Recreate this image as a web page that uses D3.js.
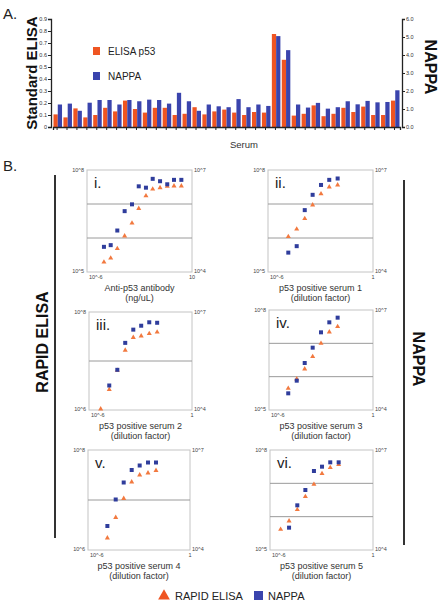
<!DOCTYPE html>
<html><head><meta charset="utf-8">
<script src="https://cdn.jsdelivr.net/npm/d3@7/dist/d3.min.js"></script>
<style>body{margin:0;background:#fff}svg{display:block}text{font-family:"Liberation Sans",Arial,sans-serif}</style>
</head><body>
<svg id="c" width="440" height="604"></svg>
<script>
// ---------- Part A data ----------
const serum = ["1","2","3","4","5","6","7","8","9","10","11","12","13","14","15","16","17","18","19","20","21","22","23","24","25","26","27","28","29","30","31","32","33","34","35"];
const elisaP53 = [0.105,0.08,0.155,0.08,0.10,0.16,0.13,0.22,0.15,0.12,0.16,0.16,0.10,0.11,0.165,0.105,0.13,0.145,0.12,0.10,0.125,0.12,0.775,0.56,0.095,0.11,0.18,0.09,0.11,0.16,0.125,0.17,0.10,0.10,0.22];
const nappaA = [1.25,1.3,0.9,1.35,1.5,1.5,1.25,1.5,1.43,1.52,1.5,1.3,1.9,1.43,0.9,1.25,1.15,1.1,1.55,1.1,1.25,1.17,5.05,4.27,1.25,1.08,1.34,1.02,1.1,1.43,1.26,1.45,1.37,1.39,2.04];
const leftTicks = [0,0.1,0.2,0.3,0.4,0.5,0.6,0.7,0.8,0.9];
const rightTicks = [0,1,2,3,4,5,6];

// ---------- Part B data (log10 values) ----------
const panelNames = ["i.","ii.","iii.","iv.","v.","vi."];
const panelTitles = [["Anti-p53 antibody","(ng/uL)"],["p53 positive serum 1","(dilution factor)"],["p53 positive serum 2","(dilution factor)"],["p53 positive serum 3","(dilution factor)"],["p53 positive serum 4","(dilution factor)"],["p53 positive serum 5","(dilution factor)"]];
const xTickLabels = [["10^-6","10"],["10^-6","1"],["10^-6","1"],["10^-6","1"],["10^-6","1"],["10^-6","1"]];
const yLeftLabels = [["10^8","10^5"],["10^8","10^5"],["10^8","10^6"],["10^8","10^5"],["10^8","10^6"],["10^8","10^5"]];
const yRightLabels = [["10^7","10^4"],["10^7","10^4"],["10^7","10^4"],["10^7","10^4"],["10^7","10^4"],["10^7","10^4"]];
const xDomainExp = [[-6,1],[-6,0],[-6,0],[-6,0],[-6,0],[-6,0]];
const yDomainExp = [[5,8],[5,8],[6,8],[5,8],[6,8],[5,8]];

const p1NappaX = [-4.87,-4.42,-3.98,-3.49,-3.00,-2.55,-2.07,-1.62,-1.13,-0.65,-0.20,0.29];
const p1NappaY = [5.74,5.79,6.22,6.79,6.99,7.52,7.48,7.74,7.67,7.58,7.71,7.71];
const p1ElisaX = [-4.87,-4.42,-3.98,-3.49,-3.00,-2.55,-2.07,-1.62,-1.13,-0.65,-0.20,0.29];
const p1ElisaY = [5.29,5.41,5.69,6.06,6.44,6.87,7.24,7.44,7.48,7.52,7.53,7.53];

const p2NappaX = [-4.84,-4.36,-3.90,-3.45,-2.97,-2.50,-2.02];
const p2NappaY = [5.57,5.76,6.82,7.27,7.56,7.71,7.75];
const p2ElisaX = [-4.84,-4.36,-3.90,-3.45,-2.97,-2.50,-2.02];
const p2ElisaY = [6.04,6.26,6.57,6.97,7.30,7.50,7.56];

const p3NappaX = [-4.82,-4.35,-3.89,-3.42,-2.96,-2.49,-2.03];
const p3NappaY = [6.50,6.82,7.37,7.64,7.72,7.79,7.78];
const p3ElisaX = [-5.32,-4.82,-4.35,-3.89,-3.42,-2.96,-2.49,-2.03];
const p3ElisaY = [6.02,6.42,6.81,7.22,7.48,7.51,7.56,7.59];

const p4NappaX = [-4.89,-4.40,-3.94,-3.48,-3.00,-2.52,-2.04];
const p4NappaY = [5.50,5.88,6.41,6.87,7.33,7.63,7.77];
const p4ElisaX = [-4.89,-4.40,-3.94,-3.48,-3.00,-2.52,-2.04];
const p4ElisaY = [5.65,5.93,6.23,6.60,7.00,7.34,7.50];

const p5NappaX = [-4.86,-4.37,-3.90,-3.43,-2.96,-2.47,-2.00];
const p5NappaY = [6.48,7.01,7.35,7.60,7.69,7.75,7.75];
const p5ElisaX = [-4.86,-4.37,-3.90,-3.43,-2.96,-2.47,-2.00];
const p5ElisaY = [6.24,6.65,7.03,7.36,7.50,7.54,7.59];

const p6NappaX = [-4.89,-4.41,-3.94,-3.44,-2.97,-2.49,-2.00];
const p6NappaY = [5.67,6.34,6.80,7.37,7.50,7.63,7.63];
const p6ElisaX = [-5.38,-4.89,-4.41,-3.94,-3.44,-2.97,-2.49,-2.00];
const p6ElisaY = [5.62,5.87,6.21,6.60,6.97,7.29,7.47,7.56];

const nappaX = [p1NappaX,p2NappaX,p3NappaX,p4NappaX,p5NappaX,p6NappaX];
const nappaY = [p1NappaY,p2NappaY,p3NappaY,p4NappaY,p5NappaY,p6NappaY];
const elisaX = [p1ElisaX,p2ElisaX,p3ElisaX,p4ElisaX,p5ElisaX,p6ElisaX];
const elisaY = [p1ElisaY,p2ElisaY,p3ElisaY,p4ElisaY,p5ElisaY,p6ElisaY];

// ---------- styles ----------
const ORANGE = "#ef5522", BLUE = "#3a44ad", ORANGE_PT = "#f2793f", BLUE_PT = "#2f3d9c";
const svg = d3.select("#c");

// ---------- Part A ----------
const A = {l:51, r:402, t:19, b:127};
const x0 = d3.scaleBand().domain(serum).range([A.l+2, A.r-2]).paddingInner(0.14).paddingOuter(0.05);
const x1 = d3.scaleBand().domain(["e","n"]).range([0, x0.bandwidth()]).padding(0);
const yL = d3.scaleLinear().domain([0,0.9]).range([A.b, A.t]);
const yR = d3.scaleLinear().domain([0,6]).range([A.b, A.t]);

svg.append("text").attr("x",3).attr("y",19).attr("font-size",15).attr("fill","#222").text("A.");
svg.append("text").attr("x",3).attr("y",171).attr("font-size",15).attr("fill","#222").text("B.");

const gA = svg.append("g");
gA.selectAll("rect.e").data(elisaP53).join("rect")
  .attr("x",(d,i)=>x0(serum[i])+x1("e")).attr("width",x1.bandwidth())
  .attr("y",d=>yL(d)).attr("height",d=>yL(0)-yL(d)).attr("fill",ORANGE);
gA.selectAll("rect.n").data(nappaA).join("rect")
  .attr("x",(d,i)=>x0(serum[i])+x1("n")).attr("width",x1.bandwidth())
  .attr("y",d=>yR(d)).attr("height",d=>yR(0)-yR(d)).attr("fill",BLUE);

const axL = d3.axisLeft(yL).tickValues(leftTicks).tickSize(3).tickFormat(d=>d===0?"0":d3.format(".1f")(d));
const gL = svg.append("g").attr("transform",`translate(${A.l},0)`).call(axL);
const axR = d3.axisRight(yR).tickValues(rightTicks).tickSize(3).tickFormat(d3.format(".1f"));
const gR = svg.append("g").attr("transform",`translate(${A.r},0)`).call(axR);
const axB = d3.axisBottom(x0).tickSize(3).tickFormat("");
const gB = svg.append("g").attr("transform",`translate(0,${A.b})`).call(axB);
[gL,gR,gB].forEach(g=>{
  g.select(".domain").attr("stroke","#222").attr("stroke-width",1.3);
  g.selectAll(".tick line").attr("stroke","#222");
  g.selectAll(".tick text").attr("font-size",5.5).attr("fill","#333").attr("font-family","Liberation Sans,Arial");
});
gL.selectAll(".tick text").attr("x",-4);
gR.selectAll(".tick text").attr("x",4);
gB.selectAll(".tick line").attr("transform",`translate(${-x0.step()*0.07},0)`);

svg.append("text").attr("transform","translate(37,73) rotate(-90)").attr("text-anchor","middle")
  .attr("font-size",15).attr("font-weight","bold").attr("fill","#111").text("Standard ELISA");
svg.append("text").attr("transform","translate(425,67) rotate(90)").attr("text-anchor","middle")
  .attr("font-size",16).attr("font-weight","bold").attr("fill","#111").text("NAPPA");
svg.append("text").attr("x",244).attr("y",148).attr("text-anchor","middle").attr("font-size",9.5).attr("fill","#333").text("Serum");

const legA = [{label:"ELISA p53",c:ORANGE,y:47},{label:"NAPPA",c:BLUE,y:72}];
legA.forEach(l=>{
  svg.append("rect").attr("x",93).attr("y",l.y).attr("width",7).attr("height",8).attr("fill",l.c);
  svg.append("text").attr("x",108).attr("y",l.y+8).attr("font-size",10).attr("fill","#222").text(l.label);
});

// ---------- Part B ----------
const boxes = [
  {x0:87,x1:192,y0:170,y1:272},
  {x0:268,x1:373,y0:170,y1:272},
  {x0:89,x1:192,y0:312,y1:410},
  {x0:269,x1:373,y0:310,y1:410},
  {x0:88,x1:190,y0:450,y1:550},
  {x0:270,x1:373,y0:450,y1:550}
];

svg.append("line").attr("x1",55).attr("x2",55).attr("y1",175).attr("y2",538).attr("stroke","#333").attr("stroke-width",2);
svg.append("line").attr("x1",404).attr("x2",404).attr("y1",180).attr("y2",545).attr("stroke","#333").attr("stroke-width",2);
svg.append("text").attr("transform","translate(48,342) rotate(-90)").attr("text-anchor","middle")
  .attr("font-size",16).attr("font-weight","bold").attr("fill","#111").text("RAPID ELISA");
svg.append("text").attr("transform","translate(413,359) rotate(90)").attr("text-anchor","middle")
  .attr("font-size",16).attr("font-weight","bold").attr("fill","#111").text("NAPPA");

const tri = d3.symbol().type(d3.symbolTriangle).size(11);
boxes.forEach((b,k)=>{
  const g = svg.append("g");
  const xs = d3.scaleLog().domain([10**xDomainExp[k][0],10**xDomainExp[k][1]]).range([b.x0,b.x1]);
  const ys = d3.scaleLog().domain([10**yDomainExp[k][0],10**yDomainExp[k][1]]).range([b.y1,b.y0]);
  g.append("rect").attr("x",b.x0).attr("y",b.y0).attr("width",b.x1-b.x0).attr("height",b.y1-b.y0)
    .attr("fill","#fff").attr("stroke","#c4c4c4").attr("stroke-width",1);
  const grid = [];
  for(let e=yDomainExp[k][0]+1;e<yDomainExp[k][1];e++) grid.push(10**e);
  g.selectAll("line.grid").data(grid).join("line").attr("x1",b.x0).attr("x2",b.x1)
    .attr("y1",d=>ys(d)).attr("y2",d=>ys(d)).attr("stroke","#9a9a9a").attr("stroke-width",1);
  // tick labels
  const fs = 5.5, tc = "#444";
  const yd = ys.domain(), xd = xs.domain();
  g.append("text").attr("x",b.x0-3).attr("y",ys(yd[1])+2).attr("text-anchor","end").attr("font-size",fs).attr("fill",tc).text(yLeftLabels[k][0]);
  g.append("text").attr("x",b.x0-3).attr("y",ys(yd[0])+1).attr("text-anchor","end").attr("font-size",fs).attr("fill",tc).text(yLeftLabels[k][1]);
  g.append("text").attr("x",b.x1+2).attr("y",ys(yd[1])+2).attr("font-size",fs).attr("fill",tc).text(yRightLabels[k][0]);
  g.append("text").attr("x",b.x1+2).attr("y",ys(yd[0])+1).attr("font-size",fs).attr("fill",tc).text(yRightLabels[k][1]);
  g.append("text").attr("x",xs(xd[0])+2).attr("y",b.y1+7).attr("font-size",fs).attr("fill",tc).text(xTickLabels[k][0]);
  g.append("text").attr("x",xs(xd[1])).attr("y",b.y1+7).attr("text-anchor","middle").attr("font-size",fs).attr("fill",tc).text(xTickLabels[k][1]);
  // titles
  const cx = (b.x0+b.x1)/2;
  g.append("text").attr("x",cx).attr("y",b.y1+19).attr("text-anchor","middle").attr("font-size",9).attr("fill","#333")
    .attr("font-family","Open Sans,Liberation Sans,Arial").text(panelTitles[k][0]);
  g.append("text").attr("x",cx).attr("y",b.y1+29).attr("text-anchor","middle").attr("font-size",9).attr("fill","#333")
    .attr("font-family","Open Sans,Liberation Sans,Arial").text(panelTitles[k][1]);
  g.append("text").attr("x",b.x0+7).attr("y",b.y0+18).attr("font-size",15).attr("fill","#222")
    .attr("font-family","Open Sans,Liberation Sans,Arial").text(panelNames[k]);
  // points
  g.selectAll("path.e").data(elisaY[k]).join("path").attr("d",tri)
    .attr("transform",(d,i)=>`translate(${xs(10**elisaX[k][i])},${ys(10**d)})`).attr("fill",ORANGE_PT);
  g.selectAll("rect.n").data(nappaY[k]).join("rect")
    .attr("x",(d,i)=>xs(10**nappaX[k][i])-2).attr("y",d=>ys(10**d)-2).attr("width",4).attr("height",4).attr("fill",BLUE_PT);
});

// bottom legend
svg.append("path").attr("d",d3.symbol().type(d3.symbolTriangle).size(60)).attr("transform","translate(164,596)").attr("fill",ORANGE);
svg.append("text").attr("x",175).attr("y",600).attr("font-size",11).attr("fill","#222").text("RAPID ELISA");
svg.append("rect").attr("x",254).attr("y",591).attr("width",9).attr("height",9).attr("fill",BLUE);
svg.append("text").attr("x",268).attr("y",600).attr("font-size",11).attr("fill","#222").text("NAPPA");
</script>
</body></html>
